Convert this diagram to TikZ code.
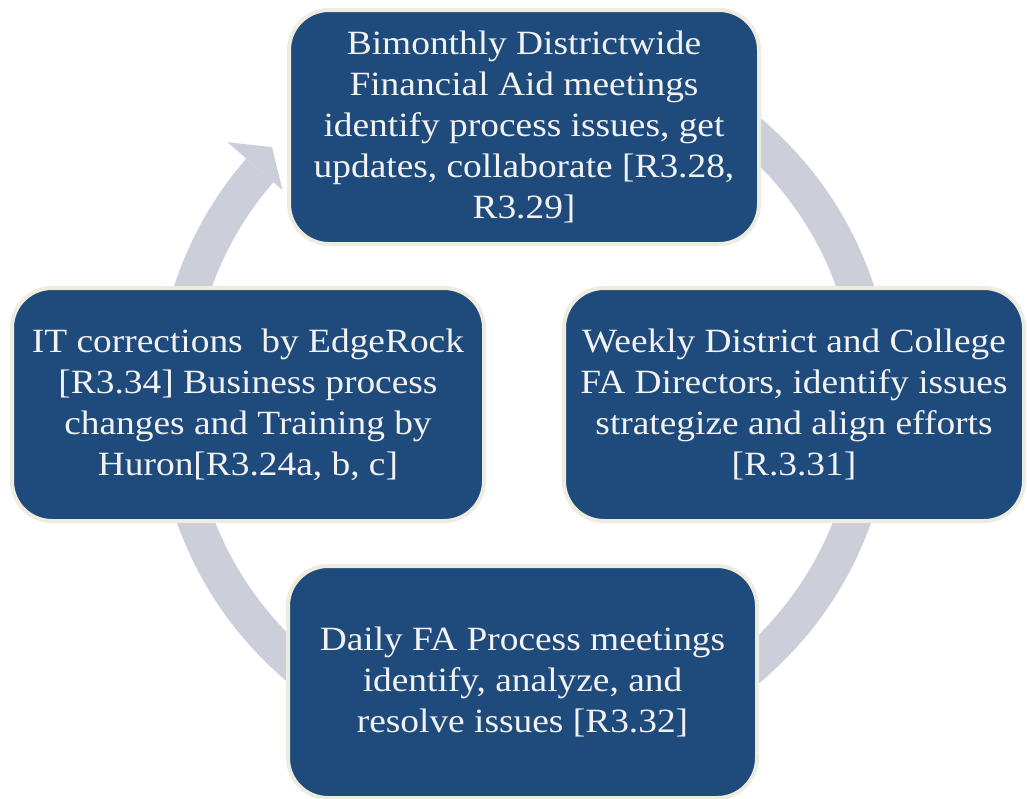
\documentclass[tikz,border=0pt]{standalone}
\usepackage{fontspec}
\setmainfont{Liberation Serif}[FakeStretch=1.1]
\usetikzlibrary{calc}
\definecolor{boxblue}{HTML}{1F4A7C}
\definecolor{boxedge}{HTML}{EEEBDF}
\definecolor{ringcol}{HTML}{CCCFD9}
\definecolor{txtcol}{HTML}{F2F2F2}
\begin{document}
\begin{tikzpicture}[x=1pt,y=-1pt,
  stage/.style={rectangle, rounded corners=40pt, fill=boxblue, draw=boxedge, line width=4pt,
    text=txtcol, align=center, inner sep=0pt,
    font=\fontsize{34}{41}\selectfont},
  ring/.style={draw=ringcol, line width=36pt}]
\useasboundingbox (0,0) rectangle (1027,798);
\coordinate (C) at (524,400);
% ring with arrowhead
\draw[ring] (C) ++(-90:350) arc[start angle=-90, end angle=221, radius=350];
\fill[ringcol] ($(C)+(221:320)$) coordinate (hb1)
  -- ($(C)+(225.1:357)$) coordinate (htip)
  -- ($(C)+(221:393)$) coordinate (hb2) -- cycle;
% boxes
\node[stage, minimum width=470pt, minimum height=234pt] (top) at (524,127)
  {Bimonthly Districtwide\\Financial Aid meetings\\identify process issues, get\\updates, collaborate {[}R3.28,\\R3.29{]}};
\node[stage, minimum width=460pt, minimum height=233pt] (right) at (794,404.5)
  {Weekly District and College\\FA Directors, identify issues\\strategize and align efforts\\{[}R.3.31{]}};
\node[stage, minimum width=472pt, minimum height=233pt] (left) at (248,404.5)
  {IT corrections\ \ by EdgeRock\\{[}R3.34{]} Business process\\changes and Training by\\Huron{[}R3.24a, b, c{]}};
\node[stage, minimum width=469pt, minimum height=232pt] (bottom) at (522.5,682)
  {Daily FA Process meetings\\identify, analyze, and\\resolve issues {[}R3.32{]}};
\end{tikzpicture}
\end{document}
